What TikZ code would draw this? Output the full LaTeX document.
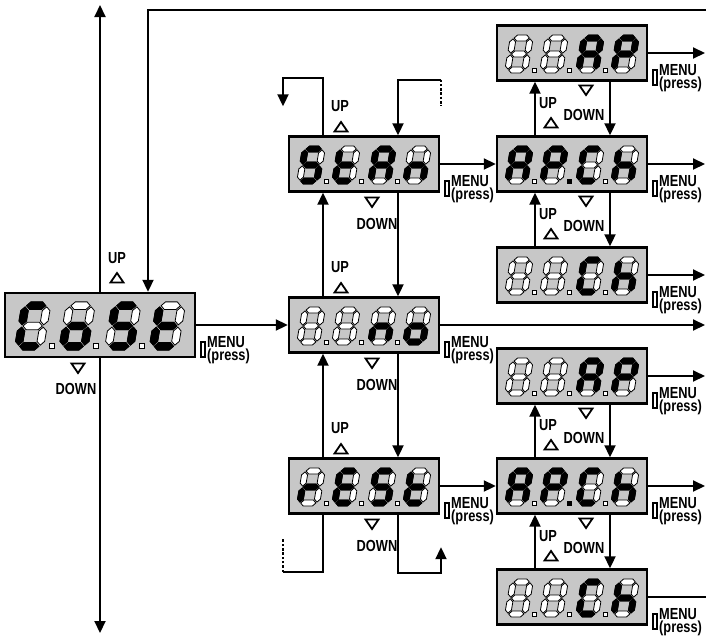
\documentclass[tikz,border=0pt]{standalone}
\usepackage{fontspec}
\setmainfont{Liberation Sans}
\newfontfamily\labfont[FakeStretch=0.8]{Liberation Sans}
\usetikzlibrary{arrows.meta}

\tikzset{
  disp/.style={draw=black, line width=2.4pt, fill=black!22, inner sep=0pt},
  segoff/.style={fill=white, draw=black, line width=0.8pt},
  segon/.style={fill=black, draw=black, line width=0.6pt},
  ln/.style={line width=2pt, draw=black},
  arr/.style={ln, -{Triangle[length=12pt,width=11pt]}},
  dsh/.style={line width=2pt, dash pattern=on 2.5pt off 1.8pt},
  lab/.style={font=\labfont\bfseries\fontsize{16}{12.5}\selectfont, inner sep=0pt},
  tri/.style={draw=black, line width=1.8pt, line join=miter},
  btn/.style={draw=black, line width=1.4pt},
}

% seven-segment pieces (local units, y downward)
\newcommand\hsg[2]{\path[#2] (-7.6,#1) -- (-4.6,#1-3) -- (4.6,#1-3) -- (7.6,#1) -- (4.6,#1+3) -- (-4.6,#1+3) -- cycle;}
\newcommand\vsg[4]{\path[#4] (#1,#2+0.9) -- (#1+3,#2+3.9) -- (#1+3,#3-3.9) -- (#1,#3-0.9) -- (#1-3,#3-3.9) -- (#1-3,#2+3.9) -- cycle;}
\newcommand\segA[1]{\hsg{-16}{#1}}
\newcommand\segB[1]{\vsg{8.5}{-16}{0}{#1}}
\newcommand\segC[1]{\vsg{8.5}{0}{16}{#1}}
\newcommand\segD[1]{\hsg{16}{#1}}
\newcommand\segE[1]{\vsg{-8.5}{0}{16}{#1}}
\newcommand\segF[1]{\vsg{-8.5}{-16}{0}{#1}}
\newcommand\segG[1]{\hsg{0}{#1}}
\newcommand\segN[1]{}

\newcommand\sevdig[4]{%
  \begin{scope}[shift={(#1,#2)}, scale=#3, cm={1,0,0.17,1,(0,0)}]
    \foreach \s in {A,B,C,D,E,F,G}{\csname seg\s\endcsname{segoff}}
    \foreach \s in {#4}{\csname seg\s\endcsname{segon}}
  \end{scope}}
\newcommand\dpt[4]{\path[#4] (#1-2*#3,#2-2*#3) rectangle (#1+2*#3,#2+2*#3);}

\newcommand\showdisp[8]{%
  \sevdig{#1-53*#3}{#2+1}{#3}{#4}%
  \sevdig{#1-18*#3}{#2+1}{#3}{#5}%
  \sevdig{#1+18*#3}{#2+1}{#3}{#6}%
  \sevdig{#1+53*#3}{#2+1}{#3}{#7}%
  \dpt{#1-38*#3}{#2+1+16*#3}{#3}{segoff}%
  \ifnum#8=2 \dpt{#1-3*#3}{#2+1+16*#3}{#3}{segon}\else\dpt{#1-3*#3}{#2+1+16*#3}{#3}{segoff}\fi
  \dpt{#1+33*#3}{#2+1+16*#3}{#3}{segoff}}

\newcommand\uptri[2]{\draw[tri] (#1-6.5,#2+4.5) -- (#1+6.5,#2+4.5) -- (#1,#2-5) -- cycle;}
\newcommand\dntri[2]{\draw[tri] (#1-6.5,#2-4.5) -- (#1+6.5,#2-4.5) -- (#1,#2+5) -- cycle;}
\newcommand\menulab[3]{%
  \draw[btn] (#2+6,#3+17) rectangle (#2+10,#3+32);
  \node[lab, align=left, anchor=north west] (#1m) at (#2+12,#3+11.5) {MENU\\(press)};}

\begin{document}
\begin{tikzpicture}[x=1pt,y=-1pt]
\useasboundingbox (0,0) rectangle (706,637);

% displays
\node[disp, minimum width=190pt, minimum height=64pt] (cost) at (100,325) {};
\node[disp, minimum width=150pt, minimum height=55pt] (stan) at (364,164) {};
\node[disp, minimum width=150pt, minimum height=55pt] (no) at (364,325) {};
\node[disp, minimum width=150pt, minimum height=55pt] (rest) at (364,486) {};
\node[disp, minimum width=150pt, minimum height=55pt] (ap1) at (572,53) {};
\node[disp, minimum width=150pt, minimum height=55pt] (apch1) at (572,164) {};
\node[disp, minimum width=150pt, minimum height=55pt] (ch1) at (572,275) {};
\node[disp, minimum width=150pt, minimum height=55pt] (ap2) at (572,376) {};
\node[disp, minimum width=150pt, minimum height=55pt] (apch2) at (572,486) {};
\node[disp, minimum width=150pt, minimum height=55pt] (ch2) at (572,597) {};

\showdisp{100}{325}{1.27}{A,D,E,F}{C,D,E,G}{A,C,D,F,G}{D,E,F,G}{0}
\showdisp{364}{164}{1}{A,C,D,F,G}{D,E,F,G}{A,B,C,E,F,G}{C,E,G}{0}
\showdisp{364}{325}{1}{N}{N}{C,E,G}{C,D,E,G}{0}
\showdisp{364}{486}{1}{E,G}{A,D,E,F,G}{A,C,D,F,G}{D,E,F,G}{0}
\showdisp{572}{53}{1}{N}{N}{A,B,C,E,F,G}{A,B,E,F,G}{0}
\showdisp{572}{164}{1}{A,B,C,E,F,G}{A,B,E,F,G}{A,D,E,F}{C,E,F,G}{2}
\showdisp{572}{275}{1}{N}{N}{A,D,E,F}{C,E,F,G}{0}
\showdisp{572}{376}{1}{N}{N}{A,B,C,E,F,G}{A,B,E,F,G}{0}
\showdisp{572}{486}{1}{A,B,C,E,F,G}{A,B,E,F,G}{A,D,E,F}{C,E,F,G}{2}
\showdisp{572}{597}{1}{N}{N}{A,D,E,F}{C,E,F,G}{0}

% free ends
\coordinate (upend) at (100,5);
\coordinate (dnend) at (100,633);
\coordinate (topin) at (706,10);
\coordinate (noout) at (705,325);
\coordinate (o1) at (705,53);
\coordinate (o2) at (705,164);
\coordinate (o3) at (705,275);
\coordinate (o4) at (705,376);
\coordinate (o5) at (705,486);
\coordinate (o6) at (706,597);
\coordinate (dA) at (441,79.5);
\coordinate (dB) at (283,572);

% connectors
\draw[arr] (cost.north) -- (upend);
\draw[arr] (cost.south) -- (dnend);
\draw[arr] (topin) -| ([xshift=48pt]cost.north);
\draw[arr] (cost.east) -- (no.west);
\draw[arr] (stan.east) -- (apch1.west);
\draw[arr] (rest.east) -- (apch2.west);
\draw[arr] (no.east) -- (noout);
\draw[arr] (ap1.east) -- (o1);
\draw[arr] (apch1.east) -- (o2);
\draw[arr] (ch1.east) -- (o3);
\draw[arr] (ap2.east) -- (o4);
\draw[arr] (apch2.east) -- (o5);
\draw[ln] (ch2.east) -- (o6);

\draw[arr] ([xshift=-41pt]no.north) -- ([xshift=-41pt]stan.south);
\draw[arr] ([xshift=34pt]stan.south) -- ([xshift=34pt]no.north);
\draw[arr] ([xshift=-41pt]rest.north) -- ([xshift=-41pt]no.south);
\draw[arr] ([xshift=34pt]no.south) -- ([xshift=34pt]rest.north);

\draw[arr] ([xshift=-41pt]stan.north) -- ++(0,-57) -- ++(-40,0) -- ++(0,28);
\draw[arr] (dA) -| ([xshift=34pt]stan.north);
\draw[dsh] (dA) -- ++(0,26);
\draw[ln] ([xshift=-41pt]rest.south) |- (dB);
\draw[dsh] (dB) -- ++(0,-34);
\draw[arr] ([xshift=34pt]rest.south) -- ++(0,58.5) -- ++(43,0) -- ++(0,-26);

\foreach \u/\d in {ap1/apch1, apch1/ch1, ap2/apch2, apch2/ch2}{
  \draw[arr] ([xshift=-37pt]\d.north) -- ([xshift=-37pt]\u.south);
  \draw[arr] ([xshift=38pt]\u.south) -- ([xshift=38pt]\d.north);
}

% labels: CoSt
\node[lab] (upc) at (117,258) {UP}; \uptri{117}{278}
\dntri{78}{368} \node[lab] (dnc) at (76,389) {DOWN};
\menulab{mc}{195}{325}

% column 2
\node[lab] (ups) at (340,106) {UP}; \uptri{341}{127}
\dntri{372}{202} \node[lab] (dns) at (377,224) {DOWN};
\node[lab] (upn) at (340,267) {UP}; \uptri{341}{288}
\dntri{372}{363} \node[lab] (dnn) at (377,385) {DOWN};
\node[lab] (upr) at (340,428) {UP}; \uptri{341}{449}
\dntri{372}{524} \node[lab] (dnr) at (377,546) {DOWN};
\menulab{ms}{439}{164}
\menulab{mn}{439}{325}
\menulab{mr}{439}{486}

% column 3
\dntri{586}{90} \node[lab] (dn1) at (584,115) {DOWN};
\node[lab] (up2) at (548,103) {UP}; \uptri{551}{123}
\dntri{586}{201} \node[lab] (dn2) at (584,226) {DOWN};
\node[lab] (up3) at (548,214) {UP}; \uptri{551}{234}
\dntri{586}{413} \node[lab] (dn4) at (584,438) {DOWN};
\node[lab] (up5) at (548,425) {UP}; \uptri{551}{445}
\dntri{586}{523} \node[lab] (dn5) at (584,548) {DOWN};
\node[lab] (up6) at (548,536) {UP}; \uptri{551}{556}
\menulab{m1}{647}{53}
\menulab{m2}{647}{164}
\menulab{m3}{647}{275}
\menulab{m4}{647}{376}
\menulab{m5}{647}{486}
\menulab{m6}{647}{597}
\end{tikzpicture}
\end{document}
